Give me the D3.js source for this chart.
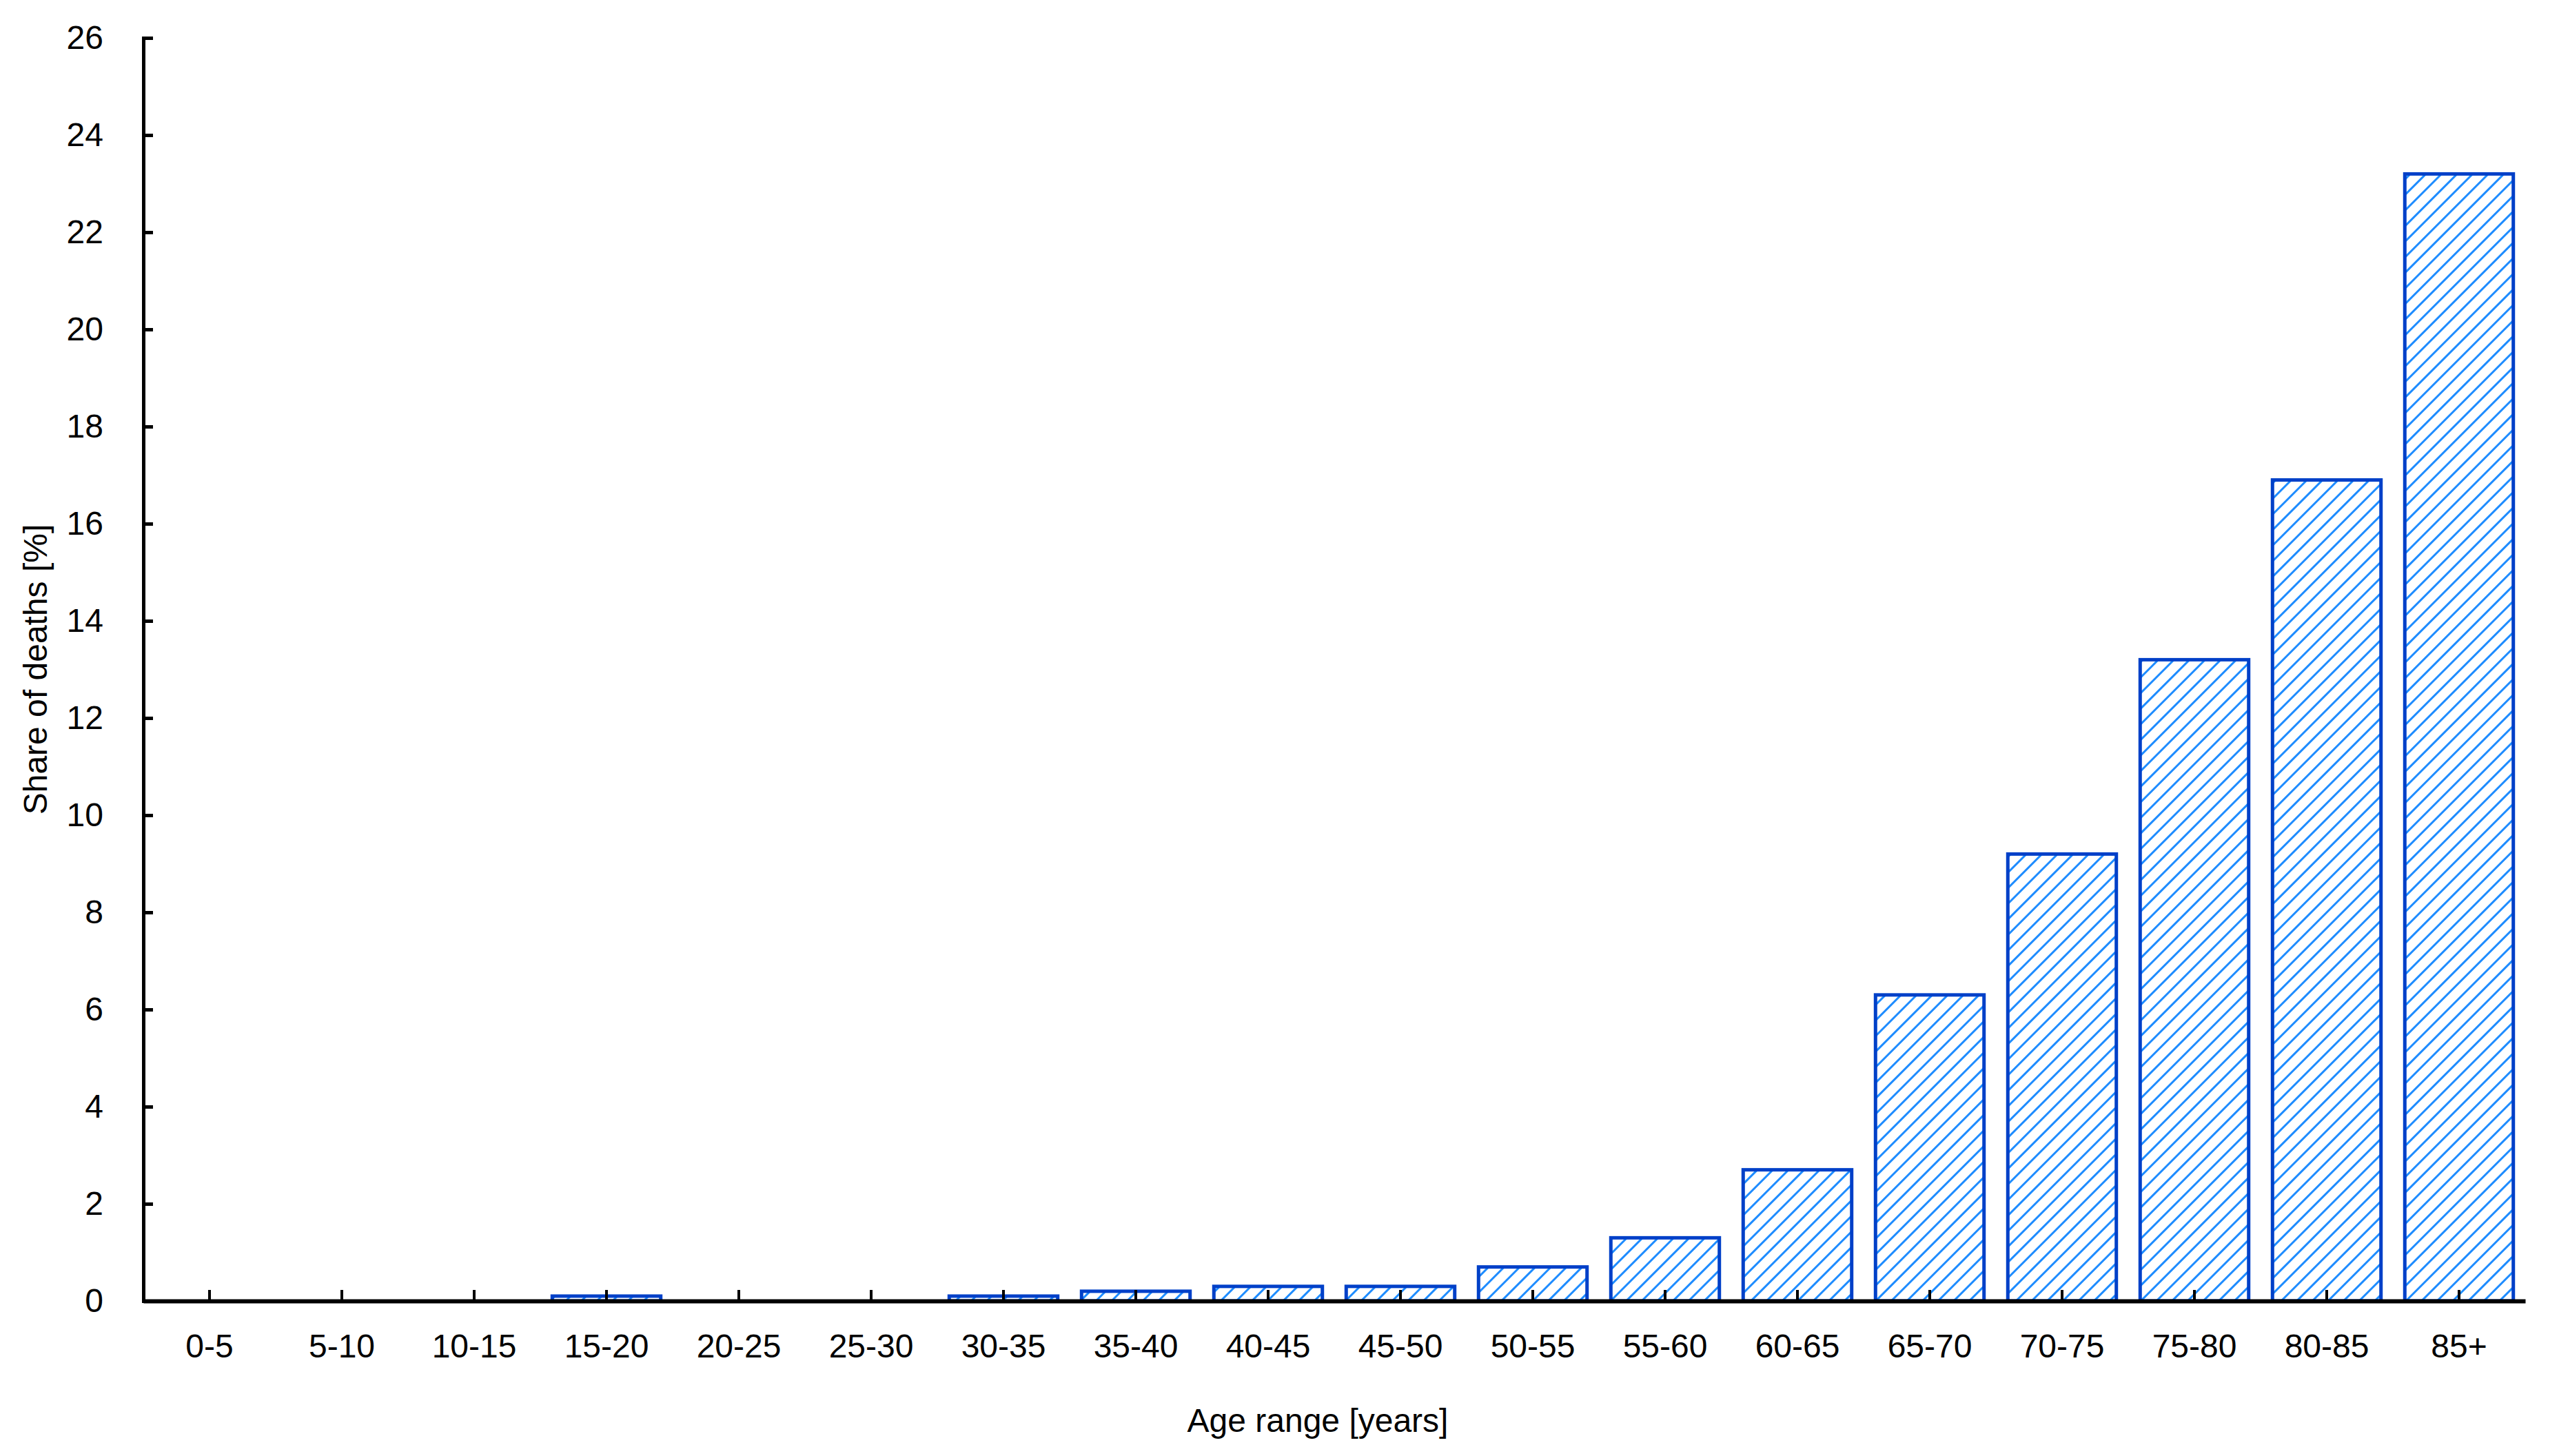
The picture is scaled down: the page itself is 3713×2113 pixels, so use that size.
<!DOCTYPE html>
<html>
<head>
<meta charset="utf-8">
<script src="https://cdn.jsdelivr.net/npm/d3@7"></script>
<style>
  body { margin: 0; background: #fff; }
  text { font-family: "Liberation Sans", Arial, sans-serif; fill: #000; }
</style>
</head>
<body>
<svg id="chart"></svg>
<script>
const ageRanges = ["0-5", "5-10", "10-15", "15-20", "20-25", "25-30", "30-35", "35-40", "40-45",
  "45-50", "50-55", "55-60", "60-65", "65-70", "70-75", "75-80", "80-85", "85+"];
const shareOfDeaths = [0, 0, 0, 0.1, 0, 0, 0.1, 0.2, 0.3, 0.3, 0.7, 1.3, 2.7, 6.3, 9.2, 13.2, 16.9, 23.2];
const yTicks = [0, 2, 4, 6, 8, 10, 12, 14, 16, 18, 20, 22, 24, 26];

const W = 3713, H = 2113;
const margin = { top: 55, right: 49, bottom: 225, left: 208 };
const width = W - margin.left - margin.right,
  height = H - margin.top - margin.bottom;

const svg = d3.select("#chart").attr("width", W).attr("height", H);

// hatch pattern
const defs = svg.append("defs");
const pat = defs.append("pattern")
  .attr("id", "hatch")
  .attr("patternUnits", "userSpaceOnUse")
  .attr("width", 16).attr("height", 16)
  .attr("patternTransform", "rotate(45)");
pat.append("rect").attr("width", 16).attr("height", 16).attr("fill", "#fff");
pat.append("line")
  .attr("x1", 0).attr("y1", 0).attr("x2", 0).attr("y2", 16)
  .attr("stroke", "#1e8cff").attr("stroke-width", 6);

const g = svg.append("g").attr("transform", `translate(${margin.left},${margin.top})`);

const x = d3.scaleBand().domain(ageRanges).range([0, width]).paddingInner(0.18).paddingOuter(0.09);
const y = d3.scaleLinear().domain([0, 26]).range([height, 0]);

// bars
g.selectAll(".bar")
  .data(ageRanges.map((d, i) => ({ k: d, v: shareOfDeaths[i] })).filter(d => d.v > 0))
  .enter()
  .append("rect")
  .attr("class", "bar")
  .attr("x", d => x(d.k))
  .attr("y", d => y(d.v))
  .attr("width", x.bandwidth())
  .attr("height", d => height - y(d.v))
  .attr("fill", "url(#hatch)")
  .attr("stroke", "#0040c8")
  .attr("stroke-width", 5);

// y axis (ticks inward)
const yAxis = g.append("g")
  .call(d3.axisLeft(y).tickValues(yTicks).tickSizeInner(-14).tickSizeOuter(-14).tickPadding(58));
yAxis.select(".domain").attr("stroke-width", 5);
yAxis.selectAll(".tick line").attr("stroke-width", 5);
yAxis.selectAll("text").attr("font-size", 48).style("font-family", "Liberation Sans, Arial, sans-serif");

// x axis (ticks inward)
const xAxis = g.append("g")
  .attr("transform", `translate(0,${height})`)
  .call(d3.axisBottom(x).tickSizeInner(-16).tickSizeOuter(0).tickPadding(48));
xAxis.select(".domain").attr("stroke-width", 6);
xAxis.selectAll(".tick line").attr("stroke-width", 4);
xAxis.selectAll("text").attr("font-size", 48).style("font-family", "Liberation Sans, Arial, sans-serif");

// axis titles
svg.append("text")
  .attr("x", margin.left + width / 2 - 24)
  .attr("y", 2078)
  .attr("text-anchor", "middle")
  .attr("font-size", 48)
  .text("Age range [years]");

svg.append("text")
  .attr("transform", `translate(68,${margin.top + height / 2}) rotate(-90)`)
  .attr("text-anchor", "middle")
  .attr("font-size", 48)
  .text("Share of deaths [%]");
</script>
</body>
</html>
